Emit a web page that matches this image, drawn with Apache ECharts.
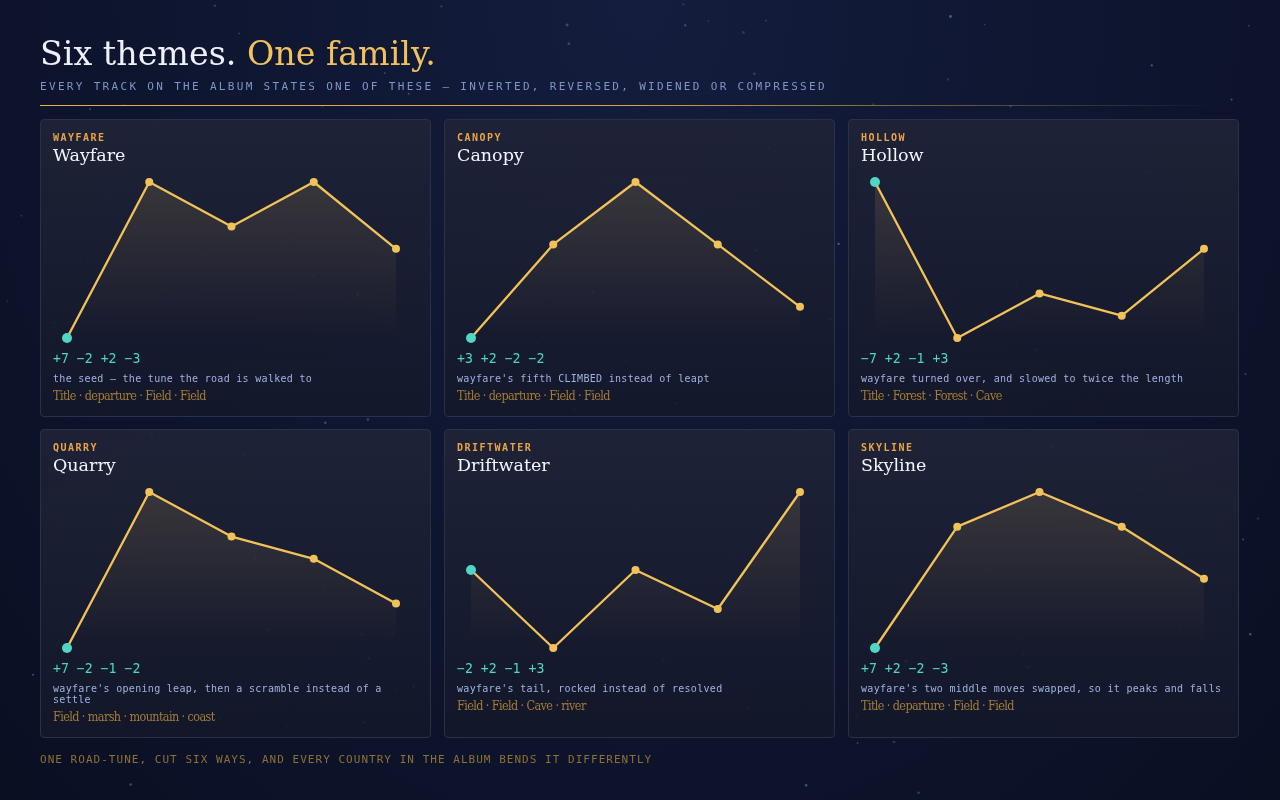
<!DOCTYPE html>
<html>
<head>
<meta charset="utf-8">
<script src="https://cdn.jsdelivr.net/npm/echarts@6/dist/echarts.min.js"></script>
<style>
html, body {
	margin: 0;
	padding: 0;
	width: 1280px;
	height: 800px;
	overflow: hidden;
}
body {
	background: radial-gradient(ellipse at 50% 0%, #141d3d 0%, #0f1733 40%, #0a0f22 100%);
	position: relative;
	font-family: "DejaVu Sans Mono", monospace;
}
#stars {
	position: absolute;
	left: 0;
	top: 0;
}
.wrap {
	position: absolute;
	left: 40px;
	top: 0;
	width: 1200px;
}
.head {
	margin-top: 34px;
	font-family: "DejaVu Serif", serif;
	font-size: 33.3px;
	line-height: 40px;
	color: #eef1fb;
	white-space: nowrap;
}
.head span {
	color: #f0c15c;
}
.sub {
	margin-top: 6px;
	font-size: 11px;
	line-height: 14px;
	letter-spacing: 2.32px;
	color: #7f95c8;
	white-space: nowrap;
}
.rule {
	margin-top: 11px;
	height: 0;
	width: 1180px;
	border-top: 1px solid #e0a843;
	border-image: linear-gradient(90deg, #eab048 0%, #d9a242 50%, rgba(200,150,60,0) 100%) 1;
}
.grid {
	margin-top: 13px;
	display: grid;
	grid-template-columns: 391px 391px 391px;
	column-gap: 13px;
	row-gap: 12px;
}
.panel {
	box-sizing: border-box;
	border: 1px solid #2b3048;
	border-radius: 4px;
	padding: 11px 12px 12px 12px;
	background: linear-gradient(180deg, rgba(32,36,56,0.9) 0%, rgba(20,24,42,0.85) 100%);
}
.tag {
	font-size: 10px;
	line-height: 13px;
	font-weight: bold;
	letter-spacing: 1.5px;
	color: #e9a446;
}
.name {
	font-family: "DejaVu Serif", serif;
	font-size: 17.5px;
	line-height: 22px;
	color: #f4f5fb;
}
.chart {
	width: 365px;
	height: 185px;
}
.steps {
	font-size: 13.2px;
	line-height: 16px;
	color: #4fd6c4;
	white-space: pre;
}
.desc {
	margin-top: 6px;
	font-size: 10px;
	line-height: 11px;
	letter-spacing: 0.3px;
	color: #9fb2e2;
}
.where {
	margin-top: 4px;
	font-family: "DejaVu Serif Condensed", "DejaVu Serif", serif;
	font-stretch: condensed;
	font-size: 12.5px;
	line-height: 16px;
	letter-spacing: -0.6px;
	color: #a57b36;
}
.foot {
	margin-top: 15px;
	font-size: 11px;
	line-height: 14px;
	letter-spacing: 1.03px;
	color: #8f6f36;
	white-space: nowrap;
}
</style>
</head>
<body>
<canvas id="stars" width="1280" height="800"></canvas>
<div class="wrap">
	<div class="head">Six themes. <span>One family.</span></div>
	<div class="sub">EVERY TRACK ON THE ALBUM STATES ONE OF THESE — INVERTED, REVERSED, WIDENED OR COMPRESSED</div>
	<div class="rule"></div>
	<div class="grid" id="grid"></div>
	<div class="foot">ONE ROAD-TUNE, CUT SIX WAYS, AND EVERY COUNTRY IN THE ALBUM BENDS IT DIFFERENTLY</div>
</div>
<script>
// the six themes, in order
var themes = ['Wayfare', 'Canopy', 'Hollow', 'Quarry', 'Driftwater', 'Skyline']

// contour of each theme (steps from the first note)
var wayfare = [0, 7, 5, 7, 4]
var canopy = [0, 3, 5, 3, 1]
var hollow = [0, -7, -5, -6, -3]
var quarry = [0, 7, 5, 4, 2]
var driftwater = [0, -2, 0, -1, 2]
var skyline = [0, 7, 9, 7, 4]
var contours = [wayfare, canopy, hollow, quarry, driftwater, skyline]

// interval labels under each chart
var steps = [
	['+7', '−2', '+2', '−3'],
	['+3', '+2', '−2', '−2'],
	['−7', '+2', '−1', '+3'],
	['+7', '−2', '−1', '−2'],
	['−2', '+2', '−1', '+3'],
	['+7', '+2', '−2', '−3']
]

var descs = [
	'the seed — the tune the road is walked to',
	"wayfare's fifth CLIMBED instead of leapt",
	'wayfare turned over, and slowed to twice the length',
	"wayfare's opening leap, then a scramble instead of a settle",
	"wayfare's tail, rocked instead of resolved",
	"wayfare's two middle moves swapped, so it peaks and falls"
]

var places = [
	['Title', 'departure', 'Field', 'Field'],
	['Title', 'departure', 'Field', 'Field'],
	['Title', 'Forest', 'Forest', 'Cave'],
	['Field', 'marsh', 'mountain', 'coast'],
	['Field', 'Field', 'Cave', 'river'],
	['Title', 'departure', 'Field', 'Field']
]

var notes = ['1', '2', '3', '4', '5']

// faint stars, placed by a fixed hash so every run looks the same
function starField() {
	var cv = document.getElementById('stars')
	var ctx = cv.getContext('2d')
	var s = 12345
	function next() {
		s = (s * 1103515245 + 12345) % 2147483648
		return s / 2147483648
	}
	for (var i = 0; i < 140; i++) {
		var x = next() * 1280
		var y = next() * 800
		var r = 0.6 + next() * 0.9
		var a = 0.15 + next() * 0.35
		ctx.fillStyle = 'rgba(150,160,200,' + a.toFixed(2) + ')'
		ctx.beginPath()
		ctx.arc(x, y, r, 0, Math.PI * 2)
		ctx.fill()
	}
}
starField()

var grid = document.getElementById('grid')
for (var i = 0; i < themes.length; i++) {
	var p = document.createElement('div')
	p.className = 'panel'
	p.innerHTML = `
		<div class="tag">${themes[i].toUpperCase()}</div>
		<div class="name">${themes[i]}</div>
		<div class="chart" id="c${i}"></div>
		<div class="steps">${steps[i].join(' ')}</div>
		<div class="desc">${descs[i]}</div>
		<div class="where">${places[i].join(' · ')}</div>
	`
	grid.appendChild(p)
}

for (var i = 0; i < themes.length; i++) {
	var chart = echarts.init(document.getElementById('c' + i), null, { renderer: 'canvas' })
	var data = contours[i].map(function (v, k) {
		if (k == 0) {
			return { value: v, symbolSize: 10, itemStyle: { color: '#4fd6c4' } }
		}
		return v
	})
	chart.setOption({
		animation: false,
		grid: { left: 14, right: 22, top: 16, bottom: 13 },
		xAxis: {
			type: 'category',
			data: notes,
			boundaryGap: false,
			show: false
		},
		yAxis: {
			type: 'value',
			min: 'dataMin',
			max: 'dataMax',
			show: false
		},
		series: [{
			type: 'line',
			data: data,
			symbol: 'circle',
			symbolSize: 8,
			itemStyle: { color: '#f2c25a' },
			lineStyle: { color: '#f2c25a', width: 2.3 },
			areaStyle: {
				origin: 'start',
				color: new echarts.graphic.LinearGradient(0, 0, 0, 1, [
					{ offset: 0, color: 'rgba(240,190,95,0.2)' },
					{ offset: 1, color: 'rgba(240,190,95,0)' }
				])
			}
		}]
	})
}
</script>
</body>
</html>
